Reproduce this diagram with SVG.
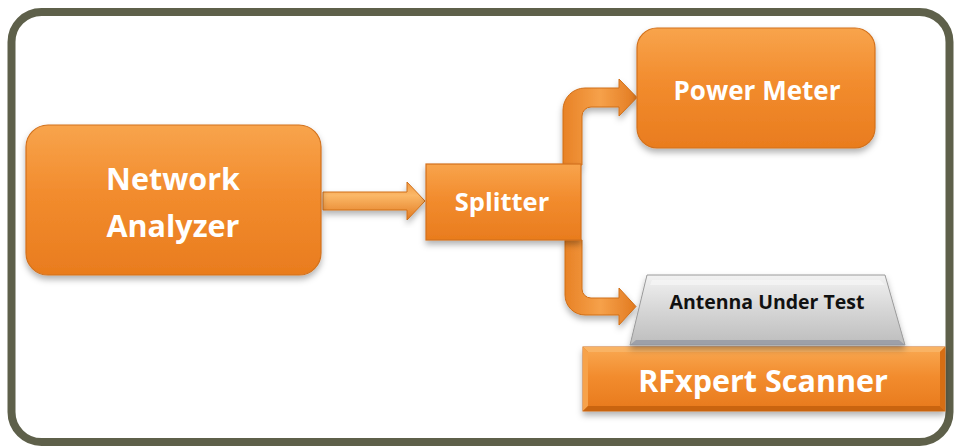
<svg xmlns="http://www.w3.org/2000/svg" width="954" height="446" viewBox="0 0 954 446">
  <defs>
    <linearGradient id="gOrange" x1="0" y1="0" x2="0" y2="1">
      <stop offset="0" stop-color="#f8a44c"/>
      <stop offset="0.45" stop-color="#f28c2e"/>
      <stop offset="1" stop-color="#e97c1e"/>
    </linearGradient>
    <linearGradient id="gArrowH" x1="0" y1="0" x2="0" y2="1">
      <stop offset="0" stop-color="#f29a42"/>
      <stop offset="0.35" stop-color="#fbb868"/>
      <stop offset="1" stop-color="#e27a20"/>
    </linearGradient>
    <linearGradient id="gArrowV" x1="0" y1="0" x2="1" y2="0">
      <stop offset="0" stop-color="#e88226"/>
      <stop offset="0.5" stop-color="#f6a14a"/>
      <stop offset="1" stop-color="#e27a20"/>
    </linearGradient>
    <linearGradient id="gGray" x1="0" y1="0" x2="0" y2="1">
      <stop offset="0" stop-color="#f2f2f2"/>
      <stop offset="0.5" stop-color="#d6d6d6"/>
      <stop offset="1" stop-color="#bdbdbd"/>
    </linearGradient>
    <filter id="shadow" x="-10%" y="-10%" width="120%" height="130%">
      <feDropShadow dx="0" dy="4" stdDeviation="3" flood-color="#000" flood-opacity="0.3"/>
    </filter>
    <style>
      .node { fill: url(#gOrange); stroke: #d2711c; stroke-width: 1.2; filter: url(#shadow); }
      .arrow { stroke: #cf6e18; stroke-width: 1; filter: url(#shadow); }
      .lbl { font-family: "Open Sans", "Liberation Sans", sans-serif; font-weight: bold; fill: #ffffff; text-anchor: middle; }
      .dark { fill: #111111; }
    </style>
  </defs>

  <rect x="0" y="0" width="954" height="446" fill="#ffffff"/>
  <rect id="frame" x="11.5" y="12" width="938" height="430" rx="30" ry="30" fill="#ffffff" stroke="#5e604a" stroke-width="8"/>

  <g id="connectors">
    <path class="arrow" fill="url(#gArrowH)" d="M323,192 L407,192 L407,182 L425,201 L407,220 L407,210 L323,210 Z"/>
    <path class="arrow" fill="url(#gArrowV)" d="M563,165 L563,110 A22,22 0 0 1 585,88 L619,88 L619,79 L637,97.5 L619,116 L619,107 L591,107 A9,9 0 0 0 582,116 L582,165 Z"/>
    <path class="arrow" fill="url(#gArrowV)" d="M565,240 L565,295 A20,20 0 0 0 585,315 L619,315 L619,325 L636,306.5 L619,288 L619,298 L591,298 A9,9 0 0 1 582,289 L582,240 Z"/>
  </g>

  <g id="network-analyzer">
    <rect class="node" x="26" y="125" width="295" height="150" rx="22" ry="22"/>
    <text class="lbl" x="173" y="190" font-size="30.5">Network</text>
    <text class="lbl" x="173" y="237" font-size="30.5">Analyzer</text>
  </g>

  <g id="splitter">
    <rect class="node" x="426" y="164" width="155" height="76"/>
    <text class="lbl" x="502" y="211" font-size="25.5">Splitter</text>
  </g>

  <g id="power-meter">
    <rect class="node" x="637" y="28" width="238" height="120" rx="20" ry="20"/>
    <text class="lbl" x="757" y="100" font-size="26">Power Meter</text>
  </g>

  <g id="rfxpert-scanner">
    <rect x="583" y="347" width="362" height="64" fill="#e57a1c" stroke="#cc6a16" stroke-width="1" filter="url(#shadow)"/>
    <polygon points="583,347 945,347 940,352 588,352" fill="#f9b364"/>
    <polygon points="583,347 588,352 588,406 583,411" fill="#f7a24a"/>
    <polygon points="583,411 588,406 940,406 945,411" fill="#c9640f"/>
    <polygon points="945,347 945,411 940,406 940,352" fill="#d66e14"/>
    <rect x="588" y="352" width="352" height="54" fill="url(#gOrange)"/>
    <text class="lbl" x="763" y="392" font-size="30.5">RFxpert Scanner</text>
  </g>

  <g id="antenna-under-test">
    <polygon points="647,275 885,275 905,345 630,345" fill="url(#gGray)" stroke="#9a9a9a" stroke-width="1" filter="url(#shadow)"/>
    <polygon points="652,280 880,280 885,285 650,285" fill="#f7f7f7" opacity="0.7"/>
    <polygon points="630,345 905,345 899,340 636,340" fill="#8e93a0" opacity="0.7"/>
    <text class="lbl dark" x="767" y="309" font-size="19.5">Antenna Under Test</text>
  </g>
</svg>
